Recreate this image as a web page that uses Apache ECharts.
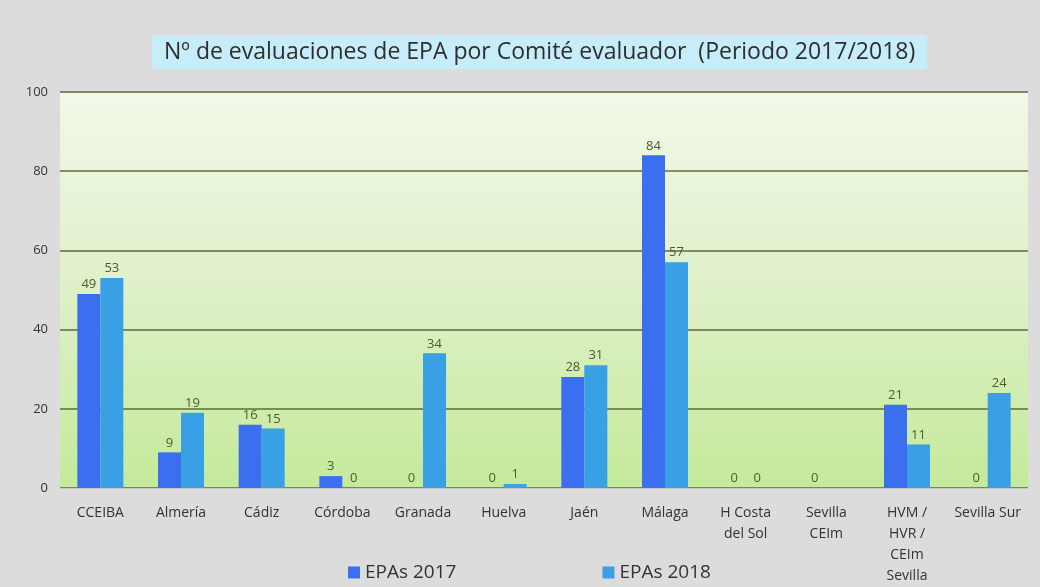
<!DOCTYPE html>
<html>
<head>
<meta charset="utf-8">
<script src="https://cdn.jsdelivr.net/npm/echarts@6/dist/echarts.min.js"></script>
<style>
  html, body { margin: 0; padding: 0; background: #fff; }
  #chart { width: 1040px; height: 587px; }
</style>
</head>
<body>
<div id="chart"></div>
<script>
// comités evaluadores
const categories = ['CCEIBA', 'Almería', 'Cádiz', 'Córdoba', 'Granada', 'Huelva', 'Jaén', 'Málaga',
  'H Costa\ndel Sol', 'Sevilla\nCEIm', 'HVM /\nHVR /\nCEIm\nSevilla', 'Sevilla Sur']
const epas2017 = [49, 9, 16, 3, 0, 0, 28, 84, 0, 0, 21, 0]
const epas2018 = [53, 19, 15, 0, 34, 1, 31, 57, 0, null, 11, 24]
const yTicks = [0, 20, 40, 60, 80, 100]

const chart = echarts.init(document.getElementById('chart'))
const font = '"Open Sans", "Noto Sans", sans-serif'

const barLabel = {
  show: true,
  position: 'top',
  distance: 3,
  color: '#4d5c2c',
  fontSize: 13,
  fontFamily: font
}

chart.setOption({
  backgroundColor: '#dcdcdc',
  title: {
    text: 'Nº de evaluaciones de EPA por Comité evaluador  (Periodo 2017/2018)',
    left: 152,
    top: 35,
    backgroundColor: '#c6edf9',
    padding: [6, 12, 5, 12],
    textStyle: {
      color: '#2e2e2e',
      fontSize: 23,
      fontWeight: 'normal',
      fontFamily: font
    }
  },
  legend: {
    bottom: 0,
    left: 343,
    itemGap: 146,
    itemWidth: 12,
    itemHeight: 12,
    icon: 'rect',
    textStyle: { color: '#333', fontSize: 19, fontFamily: font },
    data: ['EPAs 2017', 'EPAs 2018']
  },
  grid: {
    left: 60,
    right: 12,
    top: 92,
    bottom: 99,
    show: true,
    borderWidth: 0,
    backgroundColor: {
      type: 'linear', x: 0, y: 0, x2: 0, y2: 1,
      colorStops: [
        { offset: 0, color: '#f1f8e8' },
        { offset: 0.5, color: '#dff0c8' },
        { offset: 1, color: '#c4ea9a' }
      ]
    }
  },
  xAxis: {
    type: 'category',
    data: categories,
    axisLine: { lineStyle: { color: '#c8c8c8' } },
    axisTick: { show: false },
    axisLabel: {
      interval: 0,
      color: '#333',
      fontSize: 14,
      lineHeight: 21,
      margin: 15,
      fontFamily: font
    }
  },
  yAxis: {
    type: 'value',
    min: yTicks[0],
    max: yTicks[yTicks.length - 1],
    interval: 20,
    axisLine: { show: false },
    axisTick: { show: false },
    axisLabel: { color: '#333', fontSize: 13, margin: 12, fontFamily: font },
    splitLine: { lineStyle: { color: '#5c6b3c', width: 1.5 } }
  },
  series: [
    {
      name: 'EPAs 2017',
      type: 'bar',
      data: epas2017,
      barWidth: 23,
      barGap: '0%',
      itemStyle: { color: '#3b6ff0' },
      label: barLabel
    },
    {
      name: 'EPAs 2018',
      type: 'bar',
      data: epas2018,
      barWidth: 23,
      itemStyle: { color: '#39a0e6' },
      label: barLabel
    }
  ]
})
</script>
</body>
</html>
